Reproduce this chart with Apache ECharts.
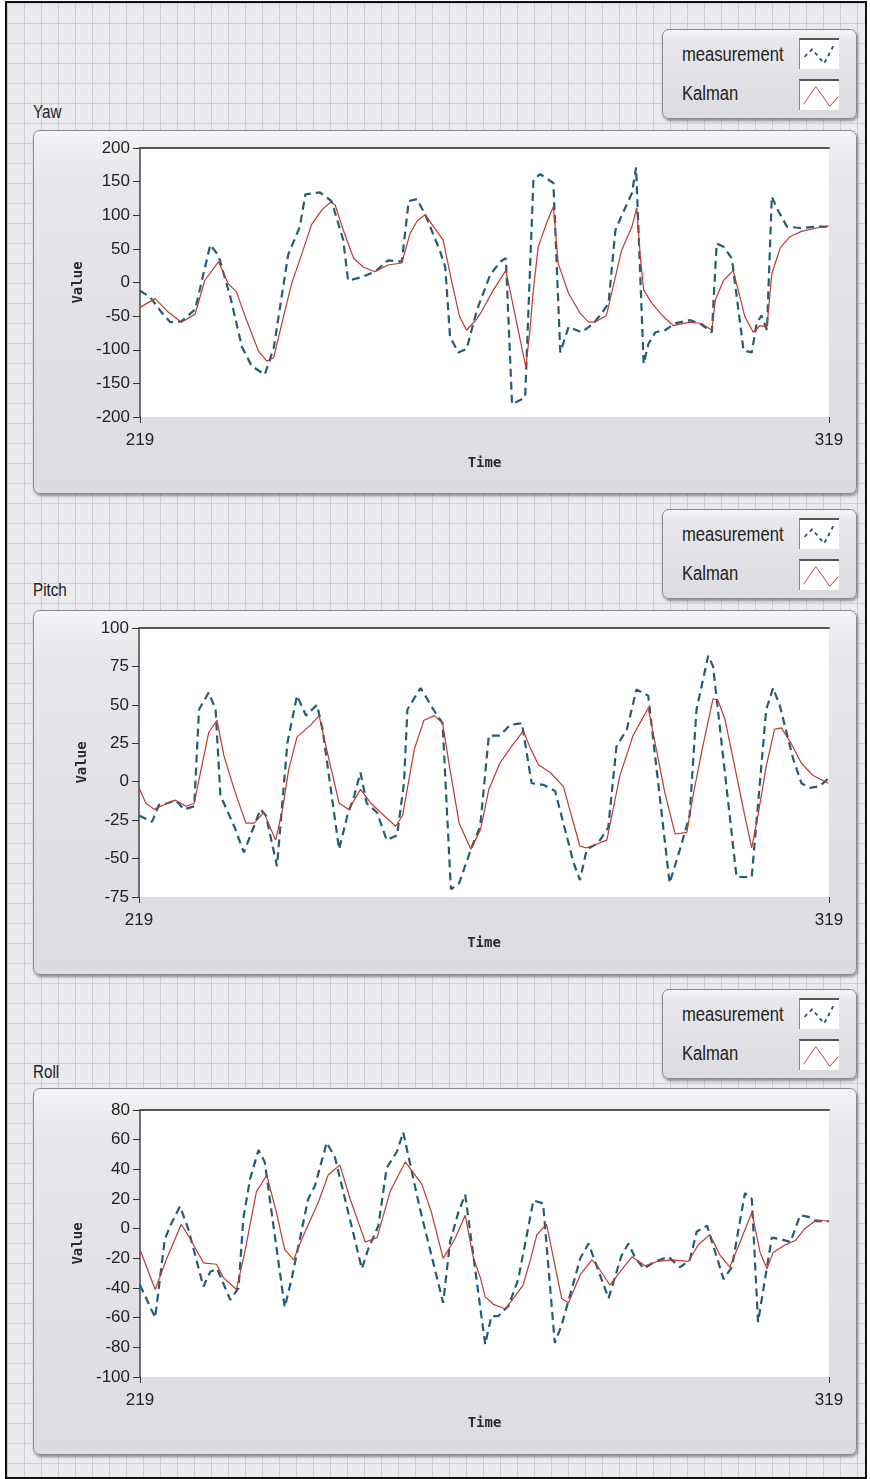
<!DOCTYPE html>
<html>
<head>
<meta charset="utf-8">
<script src="https://cdn.jsdelivr.net/npm/echarts@6/dist/echarts.min.js"></script>
<style>
  body { margin: 0; width: 870px; height: 1479px; background: #fff; overflow: hidden; position: relative; }
  .frame {
    position: absolute; left: 5px; top: 1px; width: 858px; height: 1474px;
    border: 2px solid #111;
    background-color: #ebeaee;
    background-image:
      linear-gradient(90deg, #cdcbd3 1px, transparent 1px),
      linear-gradient(#d0ced6 1px, transparent 1px);
    background-size: 17px 20px;
  }
  .panel, .legend {
    position: absolute; box-sizing: border-box;
    border: 1px solid #8c8b90; border-radius: 7px;
    background: linear-gradient(#f4f3f6 0%, #e7e6ea 12%, #dcdbe0 100%);
    box-shadow: 1px 2px 3px rgba(0, 0, 0, 0.4);
  }
  .panel { left: 33px; width: 824px; }
  .legend { left: 662px; width: 195px; height: 90px; }
  .legend span, .title {
    position: absolute; font-family: 'Liberation Sans', Arial, sans-serif;
    color: #222; line-height: 20px; transform-origin: 0 0; white-space: nowrap;
  }
  .legend span { left: 19px; font-size: 20px; transform: scaleX(0.83); }
  .title { left: 33px; font-size: 19px; transform: scaleX(0.8); }
  .legend svg {
    position: absolute; left: 136px; width: 40px; height: 31px;
    background: #fff; border-top: 2px solid #555; border-left: 1px solid #888; box-sizing: border-box;
  }
  #chart { position: absolute; left: 0; top: 0; width: 870px; height: 1479px; }
</style>
</head>
<body>
<div class="frame"></div>
<div id="chrome"></div>
<div id="chart"></div>
<script>
// time axis
const timeMin = 219;
const timeMax = 319;

// Yaw: [time, value]
const yawMeasurement = [
  [219, -12], [220.5, -22], [222.1, -44], [223.4, -59], [225, -58], [227, -40],
  [229.2, 56], [230.4, 40], [232.1, -21], [233.8, -96], [235.2, -124], [237.1, -137],
  [238.4, -98], [240.5, 41], [242.2, 83], [243, 131], [245.1, 134], [246.8, 121],
  [248.5, 63], [249.2, 3], [251.2, 8], [253.1, 16], [255, 33], [257, 31],
  [258, 121], [259.2, 124], [260.4, 101], [262.5, 48], [263.3, 23], [264, -81],
  [265.2, -104], [266.4, -99], [267.9, -41], [269.8, 11], [271.3, 31], [272.1, 36],
  [273, -181], [274.9, -171], [276.1, 153], [277.1, 161], [279, 148], [280, -104],
  [281.2, -66], [283.1, -74], [284.8, -61], [286, -46], [287, -31], [288, 78],
  [289.2, 106], [290.4, 133], [291, 171], [292.1, -121], [292.8, -91], [293.8, -74],
  [295.2, -71], [296.6, -61], [298.8, -56], [300.3, -61], [302, -74], [302.7, 58],
  [303.7, 53], [304.9, 36], [306.6, -101], [307.8, -104], [308.5, -61], [309.2, -49],
  [310, -71], [310.7, 128], [311.4, 111], [312.9, 83], [315, 81], [317.2, 83], [319, 83]
];
const yawKalman = [
  [219, -37], [221.2, -24], [223.1, -44], [225, -59], [227, -47], [228.4, 3],
  [230.4, 31], [231.8, -2], [233, -14], [234.5, -57], [236.2, -102], [237.4, -117],
  [238.4, -112], [239.8, -52], [241, -2], [242.5, 43], [243.9, 86], [245.4, 108],
  [246.6, 119], [247.3, 116], [248.5, 78], [250, 36], [251.4, 23], [253.1, 16],
  [255, 26], [257, 29], [258.2, 73], [259.2, 91], [260.4, 101], [261.6, 83],
  [263, 63], [264.2, 3], [265.4, -51], [266.4, -71], [267.9, -54], [268.4, -46],
  [270.3, -11], [272.1, 18], [275, -126], [275.6, -70], [276.1, -10], [276.8, 53],
  [278, 88], [279, 113], [279.7, 28], [281.2, -16], [282.9, -46], [284.1, -59],
  [285, -59], [286.7, -49], [288.9, 48], [290.4, 83], [291.1, 111], [291.6, 40],
  [292.1, -11], [293.3, -31], [295, -51], [296.4, -64], [298.8, -59], [300.5, -61],
  [302, -71], [302.5, -26], [303.7, 3], [305.1, 18], [306.8, -51], [308, -74],
  [309, -64], [310, -66], [310.7, 13], [311.9, 51], [313.3, 68], [315, 76],
  [317.2, 81], [319, 84]
];

// Pitch
const pitchMeasurement = [
  [219, -22], [220.9, -26], [221.9, -15], [223.1, -14], [224.3, -12], [225.5, -18],
  [227, -16], [227.7, 47], [229.1, 58], [230.1, 47], [230.8, -9], [232.8, -29],
  [234.2, -46], [236.6, -18], [237.4, -22], [239, -55], [240.5, 25], [241.9, 56],
  [243.2, 43], [244.8, 50], [245.6, 34], [248, -44], [249.2, -22], [250.2, -9],
  [251.1, 6], [252, -14], [253.5, -20], [254.9, -38], [256.4, -35], [257.4, -1],
  [257.9, 47], [259.8, 61], [261.8, 46], [263, 38], [264.2, -70], [265.4, -66],
  [267.1, -44], [268.45, -29], [269.7, 30], [271.3, 30], [272.8, 37], [274.5, 38],
  [275.9, -1], [277.6, -2], [279.3, -6], [282, -53], [282.9, -64], [283.9, -44],
  [285.5, -40], [287, -30], [288.2, 23], [289.7, 34], [291.1, 60], [292.8, 56],
  [295.9, -66], [297.4, -44], [298.8, -22], [299.8, 47], [301.5, 82], [302.2, 75],
  [305.6, -62], [307.8, -62], [309.9, 47], [310.9, 61], [311.9, 49], [313.8, 15],
  [315, -1], [316.2, -4], [317.6, -3], [318.9, 2]
];
const pitchKalman = [
  [219, -4], [220, -14], [221.2, -18], [222.6, -15], [224.3, -12], [225.8, -16],
  [227, -14], [228, 8], [229.1, 32], [230.3, 40], [231.3, 17], [232.8, -5],
  [234.5, -27], [235.7, -27], [237.1, -20], [238.8, -38], [239.8, -18], [240.7, 8],
  [241.9, 29], [243.9, 37], [245.1, 43], [246.3, 19], [248, -14], [249.4, -18],
  [251.1, -5], [252.6, -14], [254.5, -22], [256.2, -29], [257.2, -22], [258.9, 21],
  [260.3, 40], [261.8, 43], [263, 38], [264, 10], [265.4, -27], [267.1, -44],
  [268.5, -31], [269.7, -5], [271.3, 12], [273, 23], [274.7, 33], [275.7, 22],
  [276.9, 11], [278.6, 6], [280.5, -3], [282.9, -42], [283.9, -43], [285.1, -41],
  [286.8, -38], [288.7, 4], [290.6, 30], [292.8, 48], [295.2, -7], [296.7, -34],
  [298.4, -33], [299.3, -9], [300.8, 25], [302.2, 54], [302.9, 53], [303.9, 41],
  [305.1, 15], [306.6, -18], [307.8, -43], [308.7, -22], [309.9, 10], [311.1, 34],
  [312.1, 35], [313.5, 25], [315, 12], [316.7, 4], [318.9, -1]
];

// Roll
const rollMeasurement = [
  [219, -38], [221.2, -60], [222.6, -7], [223.6, 4], [224.8, 15], [226, 0],
  [228.2, -39], [229.2, -29], [230.2, -27], [232.1, -48], [233.3, -40], [234, 7],
  [235, 34], [236.2, 53], [237.1, 45], [240, -53], [241, -34], [243.4, 20],
  [244.4, 29], [246.1, 58], [247.3, 48], [251.2, -27], [252.1, -14], [253.6, 2],
  [254.8, 41], [256.3, 52], [257.2, 65], [259.6, 14], [263, -50], [264, -9],
  [265.2, 11], [266.2, 23], [269.1, -78], [270, -59], [271, -59], [272.5, -52],
  [273.9, -34], [276.1, 19], [277.5, 17], [279.2, -77], [280.2, -65], [282.9, -20],
  [284.1, -10], [287, -47], [288.9, -18], [289.9, -10], [290.8, -19], [292.1, -27],
  [293.8, -22], [295.7, -19], [297.4, -26], [298.8, -21], [299.8, -2], [301.3, 2],
  [303.7, -34], [304.9, -26], [306.8, 24], [307.8, 20], [308.7, -63], [310.7, -6],
  [311.9, -7], [313.4, -9], [314.8, 9], [316, 8], [317.2, 5], [319, 5]
];
const rollKalman = [
  [219, -14], [221.2, -41], [222.9, -20], [225, 3], [226.3, -7], [228.2, -23],
  [230.1, -24], [231.1, -33], [233, -41], [234.2, -16], [235.9, 25], [237.4, 36],
  [238.8, 11], [240, -14], [241.3, -21], [242.5, -7], [244.9, 18], [246.3, 36],
  [248, 43], [249.5, 20], [251.7, -9], [253.4, -6], [255.3, 25], [257.5, 45],
  [259.9, 30], [261.3, 11], [263, -20], [264.7, -7], [266.2, 9], [267.4, -20],
  [268.4, -33], [269.1, -46], [270.3, -51], [272, -54], [273.2, -47], [274.6, -38],
  [275.6, -22], [276.6, -4], [278, 3], [280.2, -47], [281.2, -50], [282.9, -31],
  [284.6, -21], [285.5, -26], [287.2, -38], [288.7, -29], [290.4, -19], [292.3, -25],
  [294.2, -22], [296.2, -21], [298.6, -22], [300, -11], [301.7, -4], [303.2, -18],
  [304.6, -26], [306.1, -9], [307.8, 11], [309, -16], [310, -27], [310.9, -16],
  [312.6, -11], [314.1, -8], [315.5, 0], [317.2, 6], [319, 5]
];

const seriesNames = ['measurement', 'Kalman'];
const measColor = '#215d7a';
const kalColor = '#c0392b';

const panels = [
  { title: 'Yaw', meas: yawMeasurement, kal: yawKalman, min: -200, max: 200, step: 50,
    top: 130, height: 364, legendTop: 29, titleTop: 102, grid: { left: 140, top: 148, width: 689, height: 269 } },
  { title: 'Pitch', meas: pitchMeasurement, kal: pitchKalman, min: -75, max: 100, step: 25,
    top: 610, height: 365, legendTop: 509, titleTop: 580, grid: { left: 139, top: 628, width: 690, height: 269 } },
  { title: 'Roll', meas: rollMeasurement, kal: rollKalman, min: -100, max: 80, step: 20,
    top: 1088, height: 367, legendTop: 989, titleTop: 1062, grid: { left: 140, top: 1110, width: 689, height: 267 } }
];

// panel chrome (LabVIEW style boxes, legends)
const chrome = document.getElementById('chrome');
panels.forEach(p => {
  chrome.insertAdjacentHTML('beforeend',
    `<div class="panel" style="top:${p.top}px;height:${p.height}px"></div>
     <div class="title" style="top:${p.titleTop}px">${p.title}</div>
     <div class="legend" style="top:${p.legendTop}px">
       <span style="top:14px">${seriesNames[0]}</span>
       <svg style="top:8px" viewBox="0 0 40 31"><polyline points="4,18 12,10 19,18 25,25 35,6"
         fill="none" stroke="${measColor}" stroke-width="2" stroke-dasharray="4 4"/></svg>
       <span style="top:53px">${seriesNames[1]}</span>
       <svg style="top:49px" viewBox="0 0 40 31"><polyline points="3,25 16,6 31,27 40,17"
         fill="none" stroke="${kalColor}" stroke-width="1"/></svg>
     </div>`);
});

const font = "'Liberation Sans', Arial, sans-serif";
const nameFont = "'DejaVu Sans Mono', monospace";

const chart = echarts.init(document.getElementById('chart'));
const option = {
  backgroundColor: 'transparent',
  animation: false,
  grid: panels.map(p => ({ ...p.grid, show: true, backgroundColor: '#fff', borderWidth: 0 })),
  xAxis: panels.flatMap((p, i) => [
    {
      gridIndex: i, type: 'value', min: timeMin, max: timeMax,
      axisLine: { show: false, onZero: false },
      axisTick: { show: true, customValues: [timeMin, timeMax], length: 6, lineStyle: { color: '#333' } },
      axisLabel: { customValues: [timeMin, timeMax], margin: 15, fontSize: 17, fontFamily: font, color: '#222' },
      splitLine: { show: false },
      name: 'Time', nameLocation: 'middle', nameGap: 39,
      nameTextStyle: { fontFamily: nameFont, fontSize: 14, fontWeight: 'bold', color: '#2a2a2a' }
    },
    {
      gridIndex: i, type: 'value', position: 'top', min: timeMin, max: timeMax,
      axisLine: { show: true, onZero: false, lineStyle: { color: '#555', width: 2 } },
      axisTick: { show: false }, axisLabel: { show: false }, splitLine: { show: false }
    }
  ]),
  yAxis: panels.map((p, i) => ({
    gridIndex: i, type: 'value', min: p.min, max: p.max, interval: p.step,
    axisLine: { show: true, onZero: false, lineStyle: { color: '#444', width: 1.5 } },
    axisTick: { show: true, length: 7, lineStyle: { color: '#333' } },
    axisLabel: { margin: 10, fontSize: 17, fontFamily: font, color: '#222' },
    splitLine: { show: false },
    name: 'Value', nameLocation: 'middle', nameRotate: 90, nameGap: 50,
    nameTextStyle: { fontFamily: nameFont, fontSize: 14, fontWeight: 'bold', color: '#2a2a2a' }
  })),
  series: panels.flatMap((p, i) => [
    {
      name: seriesNames[0], type: 'line', xAxisIndex: 2 * i, yAxisIndex: i,
      data: p.meas, symbol: 'none',
      lineStyle: { color: measColor, width: 2.2, type: [8, 5] }
    },
    {
      name: seriesNames[1], type: 'line', xAxisIndex: 2 * i, yAxisIndex: i,
      data: p.kal, symbol: 'none',
      lineStyle: { color: kalColor, width: 1.2 }
    }
  ])
};
chart.setOption(option);
</script>
</body>
</html>
